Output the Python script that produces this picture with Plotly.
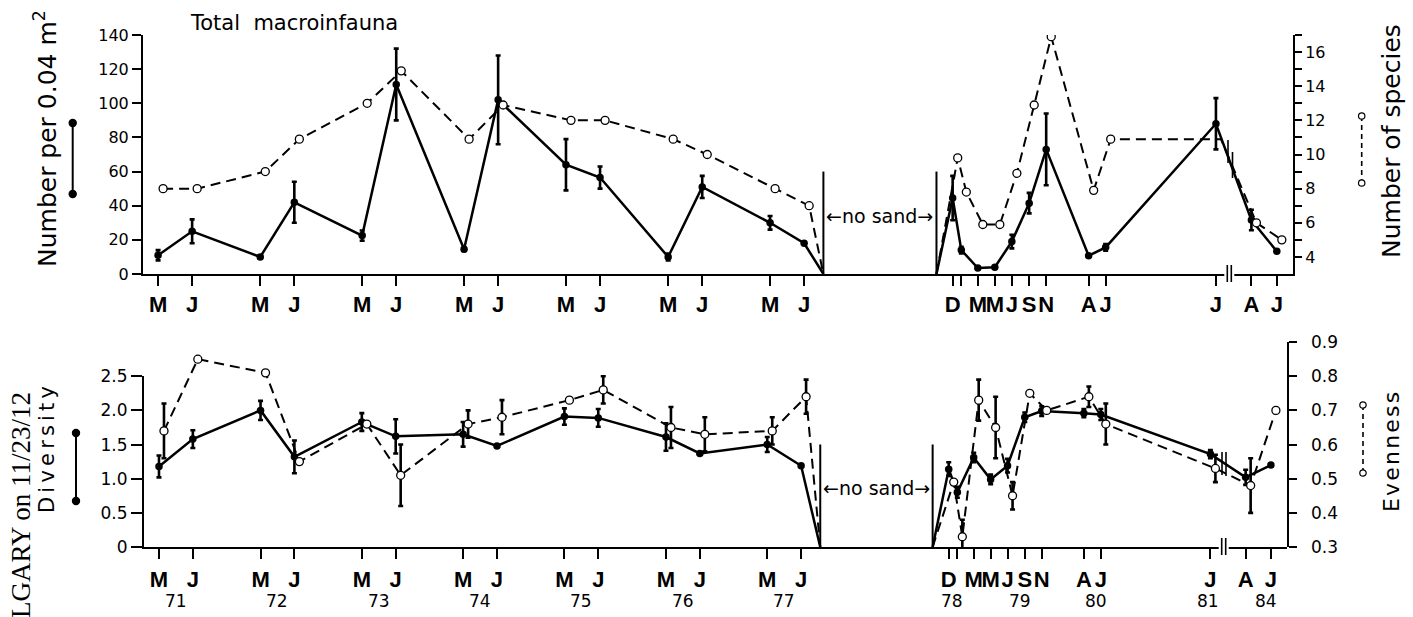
import pandas as pd
import plotly.graph_objects as go

W, H = 1413, 617

# ---------------- data ----------------
# sampling dates (before and after the "no sand" period)
dates_a = ["1971-03-01", "1971-07-01", "1972-03-01", "1972-07-01", "1973-03-01", "1973-07-01",
           "1974-03-01", "1974-07-01", "1975-03-01", "1975-07-01", "1976-03-01", "1976-07-01",
           "1977-03-01", "1977-07-01"]
dates_b = ["1978-12-15", "1979-01-15", "1979-03-15", "1979-05-15", "1979-07-15", "1979-09-15",
           "1979-11-15", "1980-04-15", "1980-06-15", "1981-07-15", "1984-04-15", "1984-07-15"]
no_sand = ["1977-09-08", "1978-10-18"]

month_a = ["M", "J"] * 7
month_b = ["D", "", "M", "M", "J", "S", "N", "A", "J", "J", "A", "J"]

years = ["71", "72", "73", "74", "75", "76", "77", "78", "79", "80", "81", "84"]
year_dates = ["1971-05-01", "1972-05-01", "1973-05-01", "1974-05-01", "1975-05-01",
              "1976-05-01", "1977-05-01", "1978-12-28", "1979-08-27", "1980-05-30",
              "1981-07-07", "1984-06-27"]

# Total macroinfauna: number per 0.04 m2 (mean, +-)
abund_a = [11, 25, 10, 42, 22.5, 111, 14.5, 102, 64, 56.5, 10, 51, 30, 18]
abund_a_err = [3, 7, 1, 12, 3, 21, 1, 26, 15, 6.5, 2, 6.5, 4, 0]
abund_b = [44.5, 14, 3.5, 4, 19, 41.5, 73, 10.7, 15.6, 88, 31.6, 13.3]
abund_b_err = [13, 2, 0, 0, 4, 6, 21, 0, 2, 15, 6, 0]

# Number of species
species_a = [8.0, 8.0, 9.0, 10.9, 13.0, 14.9, 10.9, 12.9, 12.0, 12.0, 10.9, 10.0, 8.0, 7.0]
species_b = [9.8, 7.8, 5.9, 5.9, 8.9, 12.9, 16.9, 7.9, 10.9, 10.9, 6.0, 5.0]
species_b_marker = [1, 1, 1, 1, 1, 1, 1, 1, 1, 0, 1, 1]

# Diversity
div_a = [1.18, 1.58, 2.00, 1.32, 1.83, 1.62, 1.65, 1.48, 1.91, 1.89, 1.61, 1.37, 1.50, 1.19]
div_a_err = [0.16, 0.13, 0.14, 0.24, 0.13, 0.25, 0.18, 0, 0.12, 0.13, 0.2, 0, 0.11, 0]
div_b = [1.14, 0.80, 1.31, 0.99, 1.19, 1.90, 1.99, 1.96, 1.94, 1.36, 1.02, 1.20]
div_b_err = [0.1, 0.08, 0.07, 0.07, 0.1, 0.07, 0.07, 0.06, 0.08, 0.06, 0.11, 0]

# Evenness
even_a = [0.64, 0.85, 0.81, 0.55, 0.66, 0.51, 0.66, 0.68, 0.73, 0.76, 0.65, 0.63, 0.64, 0.74]
even_a_err = [0.08, 0, 0, 0, 0, 0.09, 0.04, 0.05, 0, 0.04, 0.06, 0.05, 0.04, 0.05]
even_b = [0.49, 0.33, 0.73, 0.65, 0.45, 0.75, 0.70, 0.74, 0.66, 0.53, 0.48, 0.70]
even_b_err = [0, 0.05, 0.06, 0.09, 0.04, 0, 0, 0.03, 0.06, 0.04, 0.08, 0]

abund_ticks = [0, 20, 40, 60, 80, 100, 120, 140]
species_ticks = list(range(4, 18))
species_ticktext = [str(v) if (v % 2 == 0 and v < 17) else "" for v in species_ticks]
div_ticks = [0, 0.5, 1.0, 1.5, 2.0, 2.5]
div_ticktext = ["0", "0.5", "1.0", "1.5", "2.0", "2.5"]
even_ticks = [0.3, 0.4, 0.5, 0.6, 0.7, 0.8, 0.9]
even_ticktext = ["0.3", "0.4", "0.5", "0.6", "0.7", "0.8", "0.9"]

# ---------------- layout constants ----------------
X_RANGE = ["1971-01-06", "1984-09-11"]
BREAK = ["1981-09-01", "1984-01-27"]
SPECIES_RANGE = [3, 17]
ABUND_RANGE = [0, 140]
DIV_RANGE = [0, 2.5]
EVEN_RANGE = [0.3, 0.9]
OPEN_SHIFT = pd.Timedelta(days=18)

FONT = "DejaVu Sans"
MONTH_FONT = "Liberation Sans Narrow, Liberation Sans, Arial, sans-serif"
BLACK = "#000000"


def px(x):
    return x / W


def py(y):
    return 1 - y / H


def shifted(dates):
    return [(pd.Timestamp(d) + OPEN_SHIFT).strftime("%Y-%m-%d") for d in dates]


def line_xy(da, va, db, vb, floor):
    x = list(da) + [no_sand[0], None, no_sand[1]] + list(db)
    y = list(va) + [floor, None, floor] + list(vb)
    return x, y


fig = go.Figure()

# ---- top panel ----
x, y = line_xy(dates_a, abund_a, dates_b, abund_b, ABUND_RANGE[0])
fig.add_trace(go.Scatter(x=x, y=y, mode="lines", line=dict(color=BLACK, width=2.5),
                         xaxis="x", yaxis="y", hoverinfo="skip"))
x, y = line_xy(shifted(dates_a), species_a, shifted(dates_b), species_b, SPECIES_RANGE[0])
fig.add_trace(go.Scatter(x=x, y=y, mode="lines", line=dict(color=BLACK, width=2, dash="10px,6px"),
                         xaxis="x", yaxis="y2", hoverinfo="skip"))
fig.add_trace(go.Scatter(x=dates_a + dates_b, y=abund_a + abund_b, mode="markers",
                         marker=dict(color=BLACK, size=7.5),
                         error_y=dict(type="data", array=abund_a_err + abund_b_err, visible=True,
                                      color=BLACK, thickness=2.6, width=2.5),
                         xaxis="x", yaxis="y"))
fig.add_trace(go.Scatter(x=shifted(dates_a + dates_b), y=species_a + species_b, mode="markers",
                         marker=dict(color="white", opacity=1,
                                     size=[8] * len(species_a) + [8 * m for m in species_b_marker],
                                     line=dict(color=BLACK, width=1.3)),
                         xaxis="x", yaxis="y2"))

# ---- bottom panel ----
x, y = line_xy(dates_a, div_a, dates_b, div_b, DIV_RANGE[0])
fig.add_trace(go.Scatter(x=x, y=y, mode="lines", line=dict(color=BLACK, width=2.5),
                         xaxis="x2", yaxis="y3", hoverinfo="skip"))
x, y = line_xy(shifted(dates_a), even_a, shifted(dates_b), even_b, EVEN_RANGE[0])
fig.add_trace(go.Scatter(x=x, y=y, mode="lines", line=dict(color=BLACK, width=2, dash="10px,6px"),
                         xaxis="x2", yaxis="y4", hoverinfo="skip"))
fig.add_trace(go.Scatter(x=dates_a + dates_b, y=div_a + div_b, mode="markers",
                         marker=dict(color=BLACK, size=7.5),
                         error_y=dict(type="data", array=div_a_err + div_b_err, visible=True,
                                      color=BLACK, thickness=2.6, width=2.5),
                         xaxis="x2", yaxis="y3"))
fig.add_trace(go.Scatter(x=shifted(dates_a + dates_b), y=even_a + even_b, mode="markers",
                         marker=dict(color="white", opacity=1, size=8, line=dict(color=BLACK, width=1.3)),
                         error_y=dict(type="data", array=even_a_err + even_b_err, visible=True,
                                      color=BLACK, thickness=2.6, width=2.5),
                         xaxis="x2", yaxis="y4"))

xcommon = dict(type="date", range=X_RANGE, rangebreaks=[dict(bounds=BREAK)],
               tickmode="array", tickvals=dates_a + dates_b, ticktext=month_a + month_b,
               tickangle=0, ticks="outside", ticklen=10, tickwidth=2, tickcolor=BLACK,
               showline=True, linewidth=2, linecolor=BLACK, showgrid=False, zeroline=False,
               tickfont=dict(family=MONTH_FONT, size=22, color=BLACK, weight="bold"),
               fixedrange=True, automargin=False)
ycommon = dict(ticks="outside", tickwidth=2, tickcolor=BLACK, showline=True, linewidth=2,
               linecolor=BLACK, showgrid=False, zeroline=False, tickmode="array",
               fixedrange=True, automargin=False)

fig.update_layout(
    template="none",
    width=W, height=H, autosize=False, showlegend=False,
    margin=dict(l=0, r=0, t=0, b=0, pad=0),
    paper_bgcolor="white", plot_bgcolor="rgba(0,0,0,0)",
    xaxis=dict(xcommon, domain=[px(143), px(1293)], anchor="y", ticklabelstandoff=0),
    xaxis2=dict(xcommon, domain=[px(144), px(1287)], anchor="y3", ticklabelstandoff=2),
    yaxis=dict(ycommon, domain=[py(274), py(35)], range=ABUND_RANGE, anchor="x",
               tickvals=abund_ticks, ticklen=9, ticklabelstandoff=0,
               tickfont=dict(family=FONT, size=16, color=BLACK)),
    yaxis2=dict(ycommon, domain=[py(274), py(35)], range=SPECIES_RANGE, anchor="x",
                overlaying="y", side="right", tickvals=species_ticks, ticktext=species_ticktext,
                ticklen=7, ticklabelstandoff=0, tickfont=dict(family=FONT, size=16, color=BLACK)),
    yaxis3=dict(ycommon, domain=[py(547), py(376.25)], range=DIV_RANGE, anchor="x2",
                tickvals=div_ticks, ticktext=div_ticktext, ticklen=11, ticklabelstandoff=0,
                tickfont=dict(family=FONT, size=17, color=BLACK)),
    yaxis4=dict(ycommon, domain=[py(547), py(342.1)], range=EVEN_RANGE, anchor="x2",
                side="right", tickvals=even_ticks, showticklabels=False, ticklen=8),
)

shapes = []
# "no sand" boundary lines
for d in no_sand:
    shapes.append(dict(type="line", xref="x", yref="y", x0=d, x1=d, y0=0, y1=60,
                       line=dict(color=BLACK, width=2)))
    shapes.append(dict(type="line", xref="x2", yref="y3", x0=d, x1=d, y0=0, y1=1.5,
                       line=dict(color=BLACK, width=2)))

# axis break marks
for (xa, xb, ya) in [(1229.3, 4, 274), (1223.7, 4, 547)]:
    shapes.append(dict(type="rect", xref="paper", yref="paper", x0=px(xa - 5), x1=px(xa + 5),
                       y0=py(ya + 3), y1=py(ya - 3), fillcolor="white", line=dict(width=0)))
    for dx in (-xb / 2, xb / 2):
        shapes.append(dict(type="line", xref="paper", yref="paper", x0=px(xa + dx), x1=px(xa + dx),
                           y0=py(ya + 8), y1=py(ya - 9), line=dict(color=BLACK, width=1.6)))
# break marks across the data lines
for (xx, y0, y1) in [(1228, 140, 163), (1232.5, 152, 178), (1222, 452, 475), (1226, 452, 476)]:
    shapes.append(dict(type="line", xref="paper", yref="paper", x0=px(xx), x1=px(xx),
                       y0=py(y0), y1=py(y1), line=dict(color=BLACK, width=1.6)))

# symbol keys next to the axis titles
for (xx, y0, y1, filled) in [(72.7, 123, 194, True), (76, 433, 501, True),
                             (1361.7, 116, 183, False), (1363, 405, 473, False)]:
    shapes.append(dict(type="line", xref="paper", yref="paper", x0=px(xx), x1=px(xx),
                       y0=py(y0), y1=py(y1),
                       line=dict(color=BLACK, width=2 if filled else 1.6,
                                 dash="solid" if filled else "5px,4px")))
    r = 3.6 if filled else 3.2
    for yy in (y0, y1):
        shapes.append(dict(type="circle", xref="paper", yref="paper",
                           x0=px(xx - r), x1=px(xx + r), y0=py(yy + r), y1=py(yy - r),
                           fillcolor=BLACK if filled else "white",
                           line=dict(color=BLACK, width=1.2)))
fig.update_layout(shapes=shapes)

C = dict(showarrow=False, xanchor="center", yanchor="middle")
ann = []
# evenness tick labels (set a little away from the right axis, as in the original)
for v, t in zip(even_ticks, even_ticktext):
    ann.append(dict(showarrow=False, xanchor="left", yanchor="middle", text=t,
                    xref="paper", yref="y4", x=px(1309), y=v,
                    font=dict(family=FONT, size=17, color=BLACK)))
ann.append(dict(C, text="Total  macroinfauna", xref="paper", yref="paper", x=px(294), y=py(23),
                font=dict(family=FONT, size=21, color=BLACK)))
ann.append(dict(C, text="Number per 0.04 m<sup>2</sup>", xref="paper", yref="paper", x=px(45), y=py(139),
                textangle=-90, font=dict(family=FONT, size=25, color=BLACK)))
ann.append(dict(C, text="Number of species", xref="paper", yref="paper", x=px(1391), y=py(141),
                textangle=-90, font=dict(family=FONT, size=25, color=BLACK)))
ann.append(dict(C, text="D\u2009i\u2009v\u2009e\u2009r\u2009s\u2009i\u2009t\u2009y", xref="paper", yref="paper",
                x=px(47), y=py(450), textangle=-90,
                font=dict(family=FONT, size=21, color=BLACK)))
ann.append(dict(C, text="E\u200av\u200ae\u200an\u200an\u200ae\u200as\u200as", xref="paper", yref="paper",
                x=px(1391), y=py(452), textangle=-90,
                font=dict(family=FONT, size=22, color=BLACK)))
ann.append(dict(C, text="LGARY on 11/23/12", xref="paper", yref="paper", x=px(21), y=py(505),
                textangle=-90, font=dict(family="Liberation Serif", size=27, color=BLACK)))
mid = (pd.Timestamp(no_sand[0]) + (pd.Timestamp(no_sand[1]) - pd.Timestamp(no_sand[0])) / 2).strftime("%Y-%m-%d")
ann.append(dict(C, text="\u2190no sand\u2192", xref="x", yref="y", x=mid, y=34,
                font=dict(family=FONT, size=19, color=BLACK)))
ann.append(dict(C, text="\u2190no sand\u2192", xref="x2", yref="y3", x=mid, y=0.87,
                font=dict(family=FONT, size=19, color=BLACK)))
for yl, yd in zip(years, year_dates):
    ann.append(dict(C, text=yl, xref="x2", yref="paper", x=yd, y=py(601),
                    font=dict(family=FONT, size=17, color=BLACK)))
fig.update_layout(annotations=ann)

fig.write_html("out.html", config={"displayModeBar": False},
               post_script="document.body.style.margin='0px';document.body.style.overflow='hidden';")
